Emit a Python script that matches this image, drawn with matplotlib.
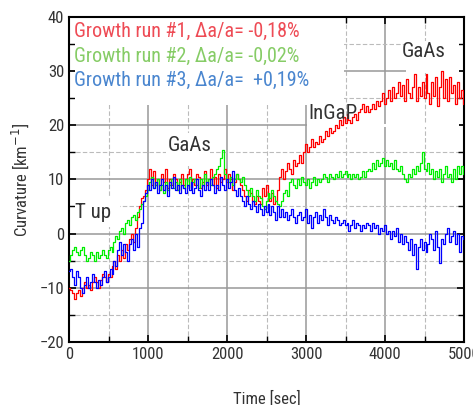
import numpy as np
import matplotlib
matplotlib.use("Agg")
import matplotlib.pyplot as plt
from matplotlib.patches import Rectangle
from matplotlib.ticker import MultipleLocator

plt.rcParams["font.family"] = ["Roboto Condensed", "DejaVu Sans"]

# curvature readings every 25 s, 0 .. 5000 s
dt = 25
run1 = [
    -10, -10.5, -11, -12, -11, -10.5, -11.5, -10, -9, -10, -9.5, -10.5, -9, -8, -9, -10, -8.5, -7.5, -8, -9,
    -7.5, -8, -6, -5, -6.5, -4, -5, -3, -4.5, -2, -3, -1, 0, -1.5, 1, 3, 5, 6.5, 7, 8,
    10, 12, 9, 11.5, 9, 10, 8, 11, 9.5, 12, 8.5, 10, 9, 11, 10, 8, 9.5, 11, 9, 10,
    11, 12, 8.5, 10, 9, 11, 10.5, 8.5, 9.5, 11.5, 9, 10, 12, 9, 10.5, 8.5, 11, 9.5, 10, 12,
    9.5, 11, 10, 8, 9.5, 11, 10, 9, 8, 7, 6, 8, 7.5, 6, 5.5, 7, 6, 5.5, 8.5, 7,
    9, 7, 6, 7.5, 5.5, 6, 8, 10.5, 12, 10, 11.5, 13, 12, 11, 13.5, 12.5, 13, 14.5, 13, 15,
    16.5, 15, 16, 17.5, 16, 17, 16.5, 18, 17, 17.5, 19, 18, 19.5, 18.5, 19, 20, 19.5, 21, 20, 21.5,
    20.5, 22, 21, 20.5, 21.5, 22, 21, 22.5, 23, 24, 22.5, 23.5, 22.5, 23, 24, 23, 24.5, 23.5, 24.5, 26,
    24, 25, 26.5, 24.5, 27, 25, 26, 28, 25.5, 27.5, 24.5, 28.5, 26, 25, 27, 29.5, 24.5, 27, 25.5, 28,
    25, 29.5, 26, 24, 28, 25.5, 29, 23.5, 27, 30, 25, 28.5, 24.5, 29, 26, 27.5, 24, 28, 25, 26.5,
    24,
]
run2 = [
    -5, -4, -3, -2.5, -3.5, -4, -3, -2.5, -4, -5, -4.5, -3.5, -4, -5, -3.5, -4.5, -4, -3, -4, -4.5,
    -3, -2.5, -3.5, -1.5, -0.5, -1, 0.5, 1, 0, 2, 2.5, 1.5, 3, 3.5, 2.5, 4, 4.5, 5.5, 6, 7,
    8, 9.5, 10.5, 8.5, 9, 10, 8, 9, 7.5, 9.5, 8, 9, 10, 8.5, 9.5, 8, 10, 9, 8.5, 10,
    9, 10.5, 8.5, 9.5, 10, 9, 8.5, 10, 9, 11, 9.5, 10, 9, 10.5, 11, 12, 12.5, 14, 15.5, 11,
    10, 9.5, 10.5, 9, 10, 11, 10, 9.5, 10.5, 9, 8, 7, 8.5, 7, 6, 8, 7, 6.5, 5, 4.5,
    6, 7.5, 6.5, 8, 7, 6, 5.5, 5, 6, 7.5, 8, 7, 9.5, 10, 9, 8.5, 10, 9, 10.5, 9.5,
    9, 10, 8.5, 9.5, 10.5, 9, 10, 9.5, 10, 11, 10.5, 9.5, 11, 10.5, 10, 11, 10.5, 11.5, 10.5, 11,
    11.5, 10.5, 11, 10, 11, 10.5, 11, 10, 10.5, 11.5, 10.5, 11.5, 12, 11.5, 13, 12, 13.5, 12.5, 13, 14,
    12.5, 13.5, 12.5, 13, 12, 13.5, 12, 11.5, 12.5, 11, 10, 9.5, 11, 10.5, 12, 11, 12.5, 11.5, 13, 15,
    12, 11.5, 13, 11, 12, 10, 11.5, 10.5, 12, 9.5, 11, 12.5, 10.5, 11, 9.5, 12, 10, 12.5, 11, 12.5,
    11,
]
run3 = [
    -7, -6.5, -8, -9.5, -7, -8, -10, -11, -9.5, -8, -10, -9, -7.5, -9, -10, -8.5, -9.5, -8, -7, -9,
    -8, -6.5, -7.5, -5, -6, -3, -1.5, -4, -2, -3.5, -5, -2, -1, -3, 0, -2.5, 1, 2, 6, 7.5,
    9, 8, 10, 8.5, 9.5, 7.5, 9, 10, 8, 9, 7, 9.5, 8.5, 10.5, 8, 9, 7.5, 9, 8.5, 7.5,
    9, 8, 9.5, 7.5, 8.5, 10, 8, 7, 9, 8, 9.5, 8, 10, 9, 7.5, 9, 8, 10.5, 9, 8,
    10, 8.5, 9.5, 11.5, 8, 7, 8.5, 7, 6, 5, 7, 5.5, 4.5, 6, 5, 4, 5.5, 4.5, 3.5, 5,
    4, 5.5, 3.5, 5, 4, 2.5, 5, 3, 4.5, 3, 4, 2.5, 3.5, 4.5, 3, 2, 3.5, 4, 2.5, 3,
    4.5, 2, 3.5, 1, 3, 4, 2, 3.5, 2.5, 4.5, 3, 1.5, 3.5, 2.5, 2, 3, 2.5, 1.5, 2, 2.5,
    1.5, 2, 0.5, 1.5, 2.5, 1, 2, 1.5, 0.5, 1.5, 1, 2, 1.5, 0.5, 2, 1, 1.5, 0, 1, 0.5,
    1.5, 0, 0.5, -1, 0.5, -0.5, 1, -1.5, 0, -2, -0.5, -1.5, -3, -1, -4, -2, -6.5, -2.5, -1, -3,
    -1.5, -3.5, -2, 0, -1, -3, 0.5, -2.5, -5.5, -1, -2, 0, 1, -1.5, -0.5, 0.5, -2, 0, -3.5, -0.5,
    -1,
]

labels = [
    "Growth run #1, \u0394a/a= -0,18%",
    "Growth run #2, \u0394a/a= -0,02%",
    "Growth run #3, \u0394a/a=  +0,19%",
]
line_colors = ["#ff0000", "#00ee00", "#0000ff"]
text_colors = ["#ee4b55", "#86cc66", "#4a86cf"]

fig = plt.figure(figsize=(4.73, 4.05), dpi=100)
ax = fig.add_axes([0.146, 0.156, 0.835, 0.802])

for vals, c in zip([run1, run2, run3], line_colors):
    t = np.arange(len(vals)) * dt
    ax.plot(t, vals, color=c, lw=0.9, drawstyle="steps-mid", zorder=3)

ax.set_xlim(0, 5000)
ax.set_ylim(-20, 40)
ax.xaxis.set_major_locator(MultipleLocator(1000))
ax.xaxis.set_minor_locator(MultipleLocator(500))
ax.yaxis.set_major_locator(MultipleLocator(10))
ax.yaxis.set_minor_locator(MultipleLocator(5))
ax.grid(which="major", color="#999999", lw=1.1, ls="-")
ax.grid(which="minor", color="#bbbbbb", lw=0.8, ls=(0, (4, 2)))
ax.set_axisbelow(True)

# white patches behind the labels
for x0, x1, y0, y1 in [(70, 3480, 23.8, 39.8), (4270, 4940, 29.6, 35.5),
                       (1230, 1780, 12.4, 18.6), (70, 650, 1.3, 6.9),
                       (3010, 3490, 20.3, 24.8), (3010, 4940, 19.7, 20.3)]:
    ax.add_patch(Rectangle((x0, y0), x1 - x0, y1 - y0, facecolor="white",
                           edgecolor="none", zorder=1))

for i, (lab, c) in enumerate(zip(labels, text_colors)):
    ax.text(60, 37.4 - 4.6 * i, lab, color=c, fontsize=14.5, va="center", zorder=4)

ax.text(70, 3.9, "T up", fontsize=15, color="#333333", va="center", zorder=4)
ax.text(1530, 16.3, "GaAs", fontsize=15, color="#333333", va="center", ha="center", zorder=4)
ax.text(3030, 22.2, "InGaP", fontsize=15, color="#333333", va="center", zorder=4)
ax.text(4490, 33.7, "GaAs", fontsize=15, color="#333333", va="center", ha="center", zorder=4)

for s in ax.spines.values():
    s.set_linewidth(1.5)
ax.tick_params(which="both", direction="in", left=True, right=True, top=True,
               bottom=True, colors="black", labelcolor="#333333", labelsize=12)
ax.tick_params(which="major", length=5, width=1.2)
ax.tick_params(which="minor", length=4, width=1.0)
ax.tick_params(axis="x", pad=4)

ax.set_xlabel("Time [sec]", fontsize=12, color="#333333", labelpad=20)
ax.set_ylabel("Curvature [km$^{-1}$]", fontsize=12, color="#333333", labelpad=6)

fig.savefig("out.png", dpi=100)
